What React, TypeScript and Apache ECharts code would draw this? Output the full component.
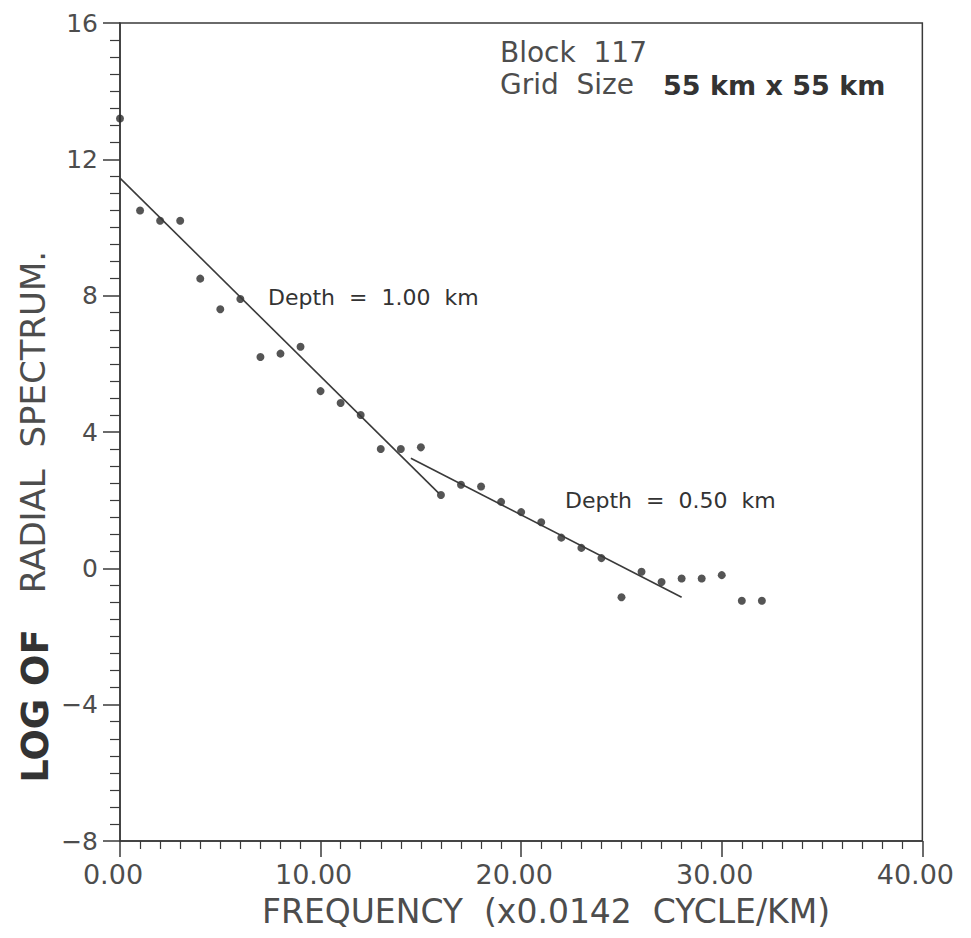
import React, { useEffect, useRef } from "react";
import * as echarts from "echarts";

const frequency = [0, 1, 2, 3, 4, 5, 6, 7, 8, 9, 10, 11, 12, 13, 14, 15, 16, 17, 18, 19, 20, 21, 22, 23, 24, 25, 26, 27, 28, 29, 30, 31, 32];
const logSpectrum = [13.2, 10.5, 10.2, 10.2, 8.5, 7.6, 7.9, 6.2, 6.3, 6.5, 5.2, 4.85, 4.5, 3.5, 3.5, 3.55, 2.15, 2.45, 2.4, 1.95, 1.65, 1.35, 0.9, 0.6, 0.3, -0.85, -0.1, -0.4, -0.3, -0.3, -0.2, -0.95, -0.95];

const deepFitX = [0, 15.9];
const deepFitY = [11.45, 2.2];
const shallowFitX = [14.5, 28.0];
const shallowFitY = [3.23, -0.85];

const xTicks = { min: 0, max: 40, interval: 10 };
const yTicks = { min: -8, max: 16, interval: 4 };

const ink = "#3a3a3a";
const textInk = "#4d4d4d";
const font = "DejaVu Sans";

export default function App() {
  const ref = useRef<HTMLDivElement>(null);
  useEffect(() => {
    if (!ref.current) return;
    const chart = echarts.init(ref.current, null, { renderer: "svg" });
    const points = frequency.map((f, i) => [f, logSpectrum[i]]);
    const deep = deepFitX.map((x, i) => [x, deepFitY[i]]);
    const shallow = shallowFitX.map((x, i) => [x, shallowFitY[i]]);
    chart.setOption({
      animation: false,
      backgroundColor: "#ffffff",
      grid: {
        left: 120,
        right: 44,
        top: 23,
        bottom: 97,
        show: true,
        borderColor: ink,
        borderWidth: 1.5,
        backgroundColor: "transparent",
      },
      xAxis: {
        type: "value",
        min: xTicks.min,
        max: xTicks.max,
        interval: xTicks.interval,
        axisLine: { onZero: false, lineStyle: { color: ink, width: 1.5 } },
        axisTick: { show: true, length: 16, lineStyle: { color: ink, width: 1.5 } },
        minorTick: { show: true, splitNumber: 10, length: 8, lineStyle: { color: ink, width: 1.2 } },
        splitLine: { show: false },
        minorSplitLine: { show: false },
        axisLabel: {
          margin: 21,
          fontFamily: font,
          fontSize: 27,
          lineHeight: 24,
          color: textInk,
          padding: [0, 14, 0, 0],
          formatter: (v: number) => v.toFixed(2),
        },
      },
      yAxis: {
        type: "value",
        min: yTicks.min,
        max: yTicks.max,
        interval: yTicks.interval,
        axisLine: { onZero: false, lineStyle: { color: ink, width: 1.5 } },
        axisTick: { show: true, length: 17, lineStyle: { color: ink, width: 1.5 } },
        minorTick: { show: true, splitNumber: 8, length: 10, lineStyle: { color: ink, width: 1.2 } },
        splitLine: { show: false },
        minorSplitLine: { show: false },
        axisLabel: {
          margin: 22,
          fontFamily: font,
          fontSize: 25,
          color: textInk,
          formatter: (v: number) => (v < 0 ? "\u2212" + Math.abs(v) : String(v)),
        },
      },
      series: [
        {
          type: "scatter",
          data: points,
          symbol: "circle",
          symbolSize: 8,
          itemStyle: { color: "#2a2a2a" },
        },
        {
          type: "line",
          data: deep,
          symbol: "none",
          lineStyle: { color: ink, width: 1.6 },
        },
        {
          type: "line",
          data: shallow,
          symbol: "none",
          lineStyle: { color: ink, width: 1.6 },
        },
      ],
      graphic: [
        {
          type: "text",
          x: 35,
          y: 706,
          rotation: Math.PI / 2,
          style: {
            text: "LOG OF",
            fontFamily: font,
            fontSize: 37,
            fontWeight: "bold",
            fill: "#333",
            align: "center",
            verticalAlign: "middle",
          },
        },
        {
          type: "text",
          x: 33,
          y: 422,
          rotation: Math.PI / 2,
          style: {
            text: "RADIAL  SPECTRUM.",
            fontFamily: font,
            fontSize: 34,
            fill: textInk,
            align: "center",
            verticalAlign: "middle",
          },
        },
        {
          type: "text",
          x: 546,
          y: 911,
          style: {
            text: "FREQUENCY  (x0.0142  CYCLE/KM)",
            fontFamily: font,
            fontSize: 33,
            fill: textInk,
            align: "center",
            verticalAlign: "middle",
          },
        },
        {
          type: "text",
          x: 500,
          y: 52,
          style: {
            text: "Block  117",
            fontFamily: font,
            fontSize: 28,
            fill: textInk,
            align: "left",
            verticalAlign: "middle",
          },
        },
        {
          type: "text",
          x: 500,
          y: 84,
          style: {
            text: "Grid  Size",
            fontFamily: font,
            fontSize: 28,
            fill: textInk,
            align: "left",
            verticalAlign: "middle",
          },
        },
        {
          type: "text",
          x: 663,
          y: 85,
          style: {
            text: "55 km x 55 km",
            fontFamily: font,
            fontSize: 27,
            fontWeight: "bold",
            fill: "#333",
            align: "left",
            verticalAlign: "middle",
          },
        },
        {
          type: "text",
          x: 268,
          y: 297,
          style: {
            text: "Depth  =  1.00  km",
            fontFamily: font,
            fontSize: 22,
            fill: "#333",
            align: "left",
            verticalAlign: "middle",
          },
        },
        {
          type: "text",
          x: 565,
          y: 500,
          style: {
            text: "Depth  =  0.50  km",
            fontFamily: font,
            fontSize: 22,
            fill: "#333",
            align: "left",
            verticalAlign: "middle",
          },
        },
      ],
    });
    return () => chart.dispose();
  }, []);
  return (
    <div
      ref={ref}
      style={{ position: "absolute", left: 0, top: 0, width: 971, height: 938 }}
    />
  );
}
